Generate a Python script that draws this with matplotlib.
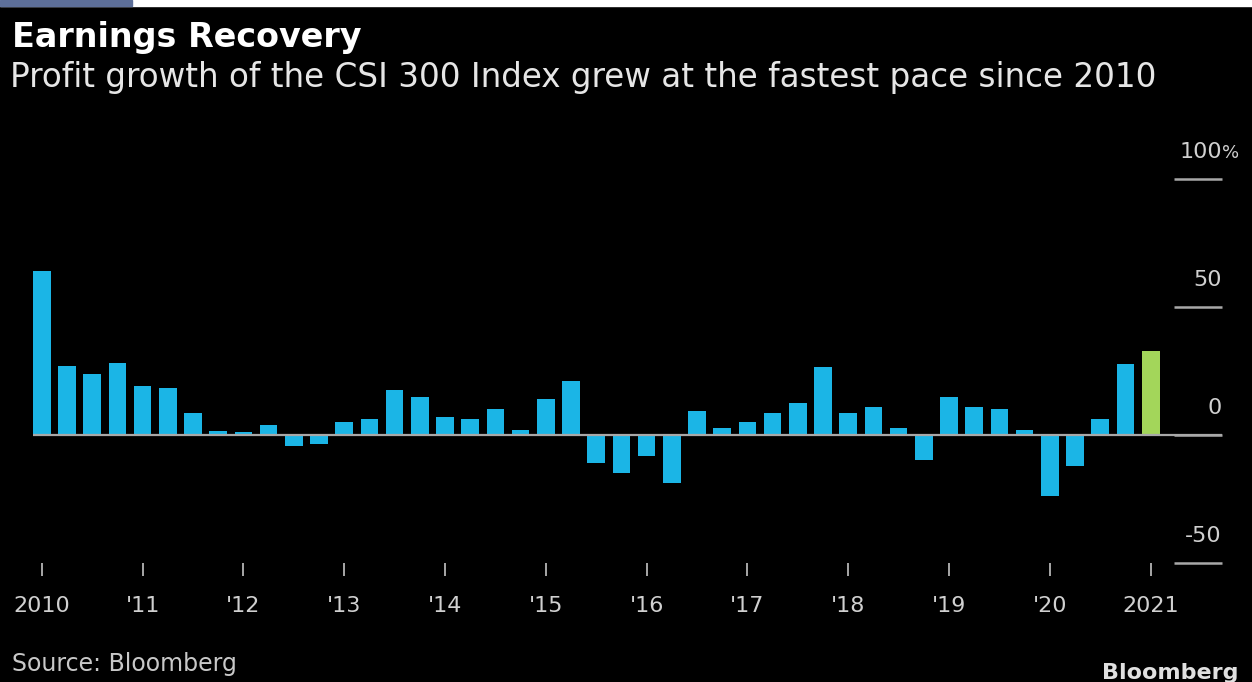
import matplotlib.pyplot as plt
from matplotlib.patches import Rectangle

# quarterly profit growth of the CSI 300, 2010Q1 .. 2021Q1 (%)
quarters = [f"{y}Q{q}" for y in range(2010, 2022) for q in range(1, 5)][:45]
growth = [64, 26.8, 23.8, 28.1, 19.3, 18.4, 8.6, 1.7, 1.0, 4.0,
          -4.2, -3.5, 5.0, 6.3, 17.7, 14.7, 7.2, 6.3, 10.2, 2.0,
          14.1, 21.0, -11.1, -14.8, -8.1, -18.8, 9.3, 2.6, 5.0, 8.6,
          12.5, 26.6, 8.6, 11.1, 2.7, -9.6, 14.7, 11.1, 10.2, 2.0,
          -23.7, -12.0, 6.3, 27.7, 32.7]
year_labels = ["2010", "'11", "'12", "'13", "'14", "'15", "'16", "'17",
               "'18", "'19", "'20", "2021"]
y_ticks = [-50, 0, 50, 100]
y_labels = ["-50", "0", "50", "100"]

BLUE = '#1bb5e6'
GREEN = '#a3d65a'
GREY = '#a8a8a8'

plt.rcParams['font.family'] = ['DejaVu Sans']

fig = plt.figure(figsize=(12.52, 6.82), dpi=100, facecolor='black')
ax = fig.add_axes([33 / 1252, 119 / 682, 1189 / 1252, 384 / 682])
ax.set_facecolor('black')

x = list(range(len(growth)))
colors = [BLUE] * (len(growth) - 1) + [GREEN]
ax.bar(x, growth, width=0.7, color=colors, zorder=2)
ax.axhline(0, color=GREY, lw=1.6, zorder=3)

ax.set_xlim(-0.35, 46.83)
ax.set_ylim(-50, 100)

# right-hand value ticks: short dashes with labels sitting above them
ytr = ax.get_yaxis_transform()
ax.hlines(y_ticks, 0.96, 1.0, transform=ytr, color=GREY, lw=1.8, clip_on=False)
for val, lab in zip(y_ticks, y_labels):
    ax.annotate(lab, xy=(1.0, val), xycoords=ytr,
                xytext=(0, 12), textcoords='offset points',
                ha='right', va='bottom', color='#d0d0d0', fontsize=16)
# the percent sign hangs past the end of the top dash
ax.annotate('%', xy=(1.0, y_ticks[-1]), xycoords=ytr,
            xytext=(0, 12), textcoords='offset points',
            ha='left', va='bottom', color='#d0d0d0', fontsize=13)

ax.set_yticks([])
ax.set_xticks(x[::4])
ax.set_xticklabels(year_labels)
ax.tick_params(axis='x', colors=GREY, length=9, width=1.4, pad=15,
               labelsize=16, labelcolor='#d0d0d0')
for s in ax.spines.values():
    s.set_visible(False)

# screenshot strip at top
fig.patches.append(Rectangle((0, 676 / 682), 1, 6 / 682, transform=fig.transFigure,
                             color='white', zorder=0))
fig.patches.append(Rectangle((0, 676 / 682), 132 / 1252, 6 / 682,
                             transform=fig.transFigure, color='#5d6f99', zorder=1))

fig.text(12 / 1252, 1 - 37 / 682, 'Earnings Recovery', color='white',
         fontsize=24, fontweight='bold', va='center')
fig.text(10 / 1252, 1 - 77 / 682,
         'Profit growth of the CSI 300 Index grew at the fastest pace since 2010',
         color='#e6e6e6', fontsize=23.5, va='center')
fig.text(12 / 1252, 1 - 664 / 682, 'Source: Bloomberg', color='#c8c8c8',
         fontsize=17, va='center')
fig.text(1239 / 1252, 1 - 673 / 682, 'Bloomberg', color='#e0e0e0',
         fontsize=16, fontweight='bold', ha='right', va='center')

fig.savefig('out.png', dpi=100, facecolor='black')
